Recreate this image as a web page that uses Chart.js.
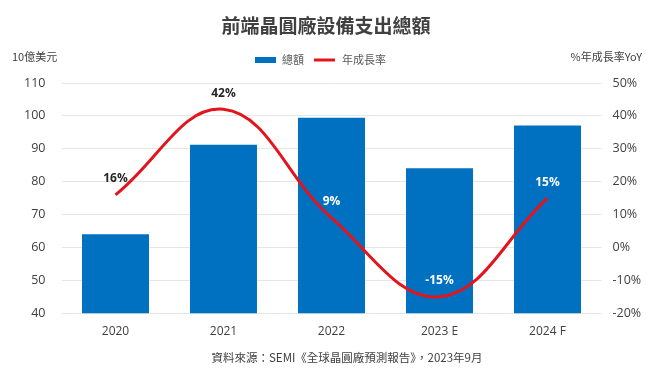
<!DOCTYPE html>
<html lang="zh-Hant">
<head>
    <meta charset="UTF-8">
    <title>前端晶圓廠設備支出總額</title>
    <script src="https://cdn.jsdelivr.net/npm/chart.js"></script>
    <style>
        html, body { margin: 0; padding: 0; background: #fff; }
        #wrap { width: 653px; height: 368px; }
    </style>
</head>
<body>
    <div id="wrap"><canvas id="myChart" width="653" height="368"></canvas></div>
    <script>
        const labels = ['2020', '2021', '2022', '2023 E', '2024 F'];
        const totals = [64.0, 91.2, 99.4, 84.1, 97.1];      // 10億美元
        const growth = [16, 42, 9, -15, 15];                // %
        const leftTicks = { min: 40, max: 110, step: 10 };
        const rightTicks = { min: -20, max: 50, step: 10 };

        const FONT = "'Open Sans', 'Noto Sans CJK TC', sans-serif";
        const CJK = "'Noto Sans CJK TC', 'Open Sans', sans-serif";
        const BLUE = '#0070c0';
        const RED = '#e3141c';

        // title, legend, axis units, source and the % labels
        const extras = {
            id: 'extras',
            afterDatasetsDraw(chart) {
                const c = chart.ctx;
                c.save();
                c.textBaseline = 'middle';

                c.fillStyle = '#404040';
                c.font = 'bold 19px ' + CJK;
                c.textAlign = 'center';
                c.fillText('前端晶圓廠設備支出總額', 326, 26);

                // legend
                c.fillStyle = BLUE;
                c.fillRect(255, 57, 21, 6);
                c.strokeStyle = RED;
                c.lineWidth = 3;
                c.beginPath();
                c.moveTo(314, 60);
                c.lineTo(335, 60);
                c.stroke();
                c.fillStyle = '#595959';
                c.font = '11px ' + CJK;
                c.textAlign = 'left';
                c.fillText(chart.data.datasets[0].label, 282, 60);
                c.fillText(chart.data.datasets[1].label, 342, 60);

                // axis units
                c.fillStyle = '#404040';
                c.fillText('10億美元', 12, 57);
                c.textAlign = 'right';
                c.fillText('%年成長率YoY', 642, 57);

                // source
                c.textAlign = 'center';
                c.font = '11.5px ' + CJK;
                c.fillText('資料來源：SEMI《全球晶圓廠預測報告》，2023年9月', 347, 358);

                // growth labels
                const x = chart.scales.x, yL = chart.scales.y, yR = chart.scales.y1;
                c.font = 'bold 12px ' + FONT;
                growth.forEach((g, i) => {
                    const px = x.getPixelForValue(i);
                    const py = yR.getPixelForValue(g) - 16;
                    const barTop = yL.getPixelForValue(totals[i]);
                    c.fillStyle = py > barTop ? '#ffffff' : '#262626';
                    c.fillText(g + '%', px, py);
                });
                c.restore();
            }
        };

        const ctx = document.getElementById('myChart').getContext('2d');
        const myChart = new Chart(ctx, {
            data: {
                labels: labels,
                datasets: [{
                    type: 'bar',
                    label: '總額',
                    data: totals,
                    yAxisID: 'y',
                    backgroundColor: BLUE,
                    categoryPercentage: 0.62,
                    barPercentage: 1,
                    order: 1
                }, {
                    type: 'line',
                    label: '年成長率',
                    data: growth,
                    yAxisID: 'y1',
                    borderColor: RED,
                    borderWidth: 3,
                    pointRadius: 0,
                    tension: 0.4,
                    fill: false,
                    order: 0
                }]
            },
            options: {
                responsive: false,
                animation: false,
                layout: { padding: { top: 83, left: 0, right: 0, bottom: 0 } },
                plugins: {
                    legend: { display: false },
                    title: { display: false },
                    tooltip: { enabled: false }
                },
                scales: {
                    x: {
                        grid: { display: false, drawTicks: false },
                        border: { display: false },
                        ticks: { color: '#404040', font: { family: FONT, size: 12 }, padding: 11 },
                        afterFit(s) { s.height = 368 - 313.3; }
                    },
                    y: {
                        position: 'left',
                        min: leftTicks.min,
                        max: leftTicks.max,
                        ticks: { stepSize: leftTicks.step, color: '#404040', font: { family: FONT, size: 12.5 }, padding: 16 },
                        grid: { color: '#e6e6e6', lineWidth: 1, drawTicks: false },
                        border: { display: false },
                        afterFit(s) { s.width = 61.5; }
                    },
                    y1: {
                        position: 'right',
                        min: rightTicks.min,
                        max: rightTicks.max,
                        ticks: { stepSize: rightTicks.step, color: '#404040', font: { family: FONT, size: 12.5 }, padding: 11, callback: v => v + '%' },
                        grid: { drawOnChartArea: false, drawTicks: false },
                        border: { display: false },
                        afterFit(s) { s.width = 51.5; }
                    }
                }
            },
            plugins: [extras]
        });
    </script>
</body>
</html>
